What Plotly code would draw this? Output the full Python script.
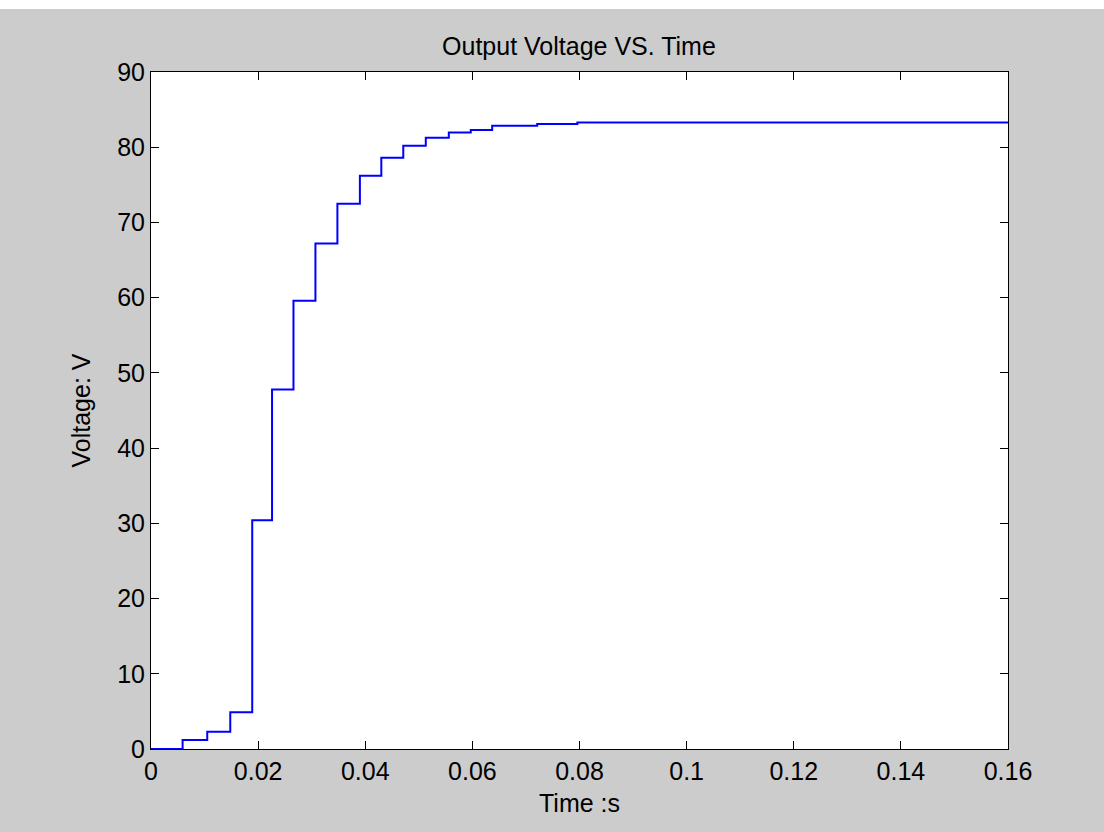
import plotly.graph_objects as go

# Step times (s) and output voltage levels (V)
time_s = [0.0, 0.0059, 0.0105, 0.0148, 0.0189, 0.0226, 0.0266, 0.0307, 0.0348,
          0.0390, 0.0430, 0.0471, 0.0513, 0.0556, 0.0597, 0.0637, 0.0721, 0.0796, 0.16]
voltage_v = [0.0, 1.2, 2.3, 4.9, 30.4, 47.8, 59.6, 67.2, 72.5,
             76.2, 78.6, 80.2, 81.25, 81.95, 82.3, 82.85, 83.1, 83.3, 83.3]

x_tickvals = [0, 0.02, 0.04, 0.06, 0.08, 0.1, 0.12, 0.14, 0.16]
x_ticktext = ["0", "0.02", "0.04", "0.06", "0.08", "0.1", "0.12", "0.14", "0.16"]
y_tickvals = [0, 10, 20, 30, 40, 50, 60, 70, 80, 90]
y_ticktext = ["0", "10", "20", "30", "40", "50", "60", "70", "80", "90"]

FONT = "Liberation Sans, Arial, sans-serif"

fig = go.Figure()
fig.add_trace(go.Scatter(
    x=time_s, y=voltage_v, mode="lines", line_shape="hv",
    line=dict(color="#0000ff", width=2), showlegend=False, hoverinfo="skip"))

axis_common = dict(
    showgrid=False, zeroline=False, showline=True, linecolor="black", linewidth=1,
    mirror="ticks", ticks="inside", ticklen=8, tickwidth=1, tickcolor="black",
    tickfont=dict(family=FONT, size=25, color="black"),
)

fig.update_layout(
    width=1104, height=832,
    margin=dict(l=151, r=96, t=72, b=83),
    paper_bgcolor="#cccccc", plot_bgcolor="white",
    title=dict(text="Output Voltage VS. Time", x=0.5244, xanchor="center",
               y=1 - 46 / 832, yanchor="middle",
               font=dict(family=FONT, size=25, color="black")),
    xaxis=dict(range=[0, 0.16], tickvals=x_tickvals, ticktext=x_ticktext,
               title=dict(text="Time :s", standoff=10,
                          font=dict(family=FONT, size=25, color="black")),
               **axis_common),
    yaxis=dict(range=[0, 90], tickvals=y_tickvals, ticktext=y_ticktext,
               title=dict(text="Voltage: V", standoff=19,
                          font=dict(family=FONT, size=25, color="black")),
               **axis_common),
    shapes=[dict(type="rect", xref="paper", yref="paper",
                 x0=-151 / 857, x1=1 + 96 / 857,
                 y0=1 + (72 - 9) / 677, y1=1 + 72 / 677 + 0.01,
                 fillcolor="white", line=dict(width=0), layer="below")],
)

fig.write_html("out.html")
